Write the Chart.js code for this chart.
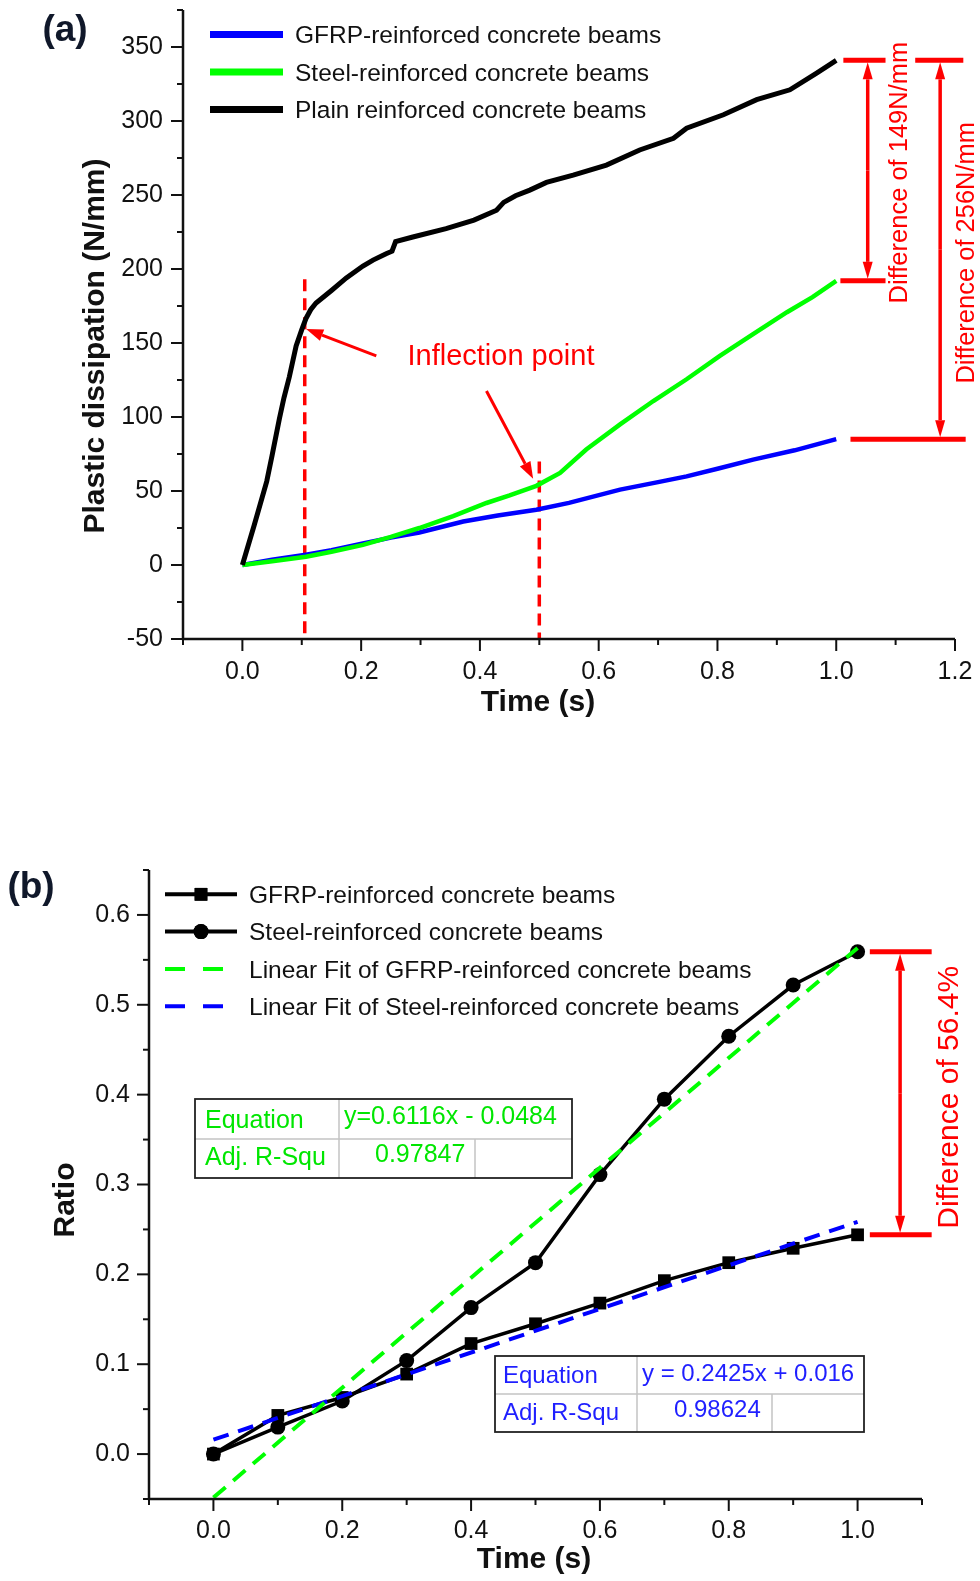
<!DOCTYPE html>
<html>
<head>
<meta charset="utf-8">
<title>Plastic dissipation and ratio</title>
<script src="https://cdn.jsdelivr.net/npm/chart.js@4.4.1/dist/chart.umd.min.js"></script>
<style>
  html, body { margin: 0; padding: 0; background: #fff; }
  body { width: 980px; height: 1581px; position: relative; overflow: hidden; }
  .panel { position: absolute; left: 0; }
  #panelA { top: 0; }
  #panelB { top: 760px; }
</style>
</head>
<body>
<div class="panel" id="panelA"><canvas id="chartA" width="980" height="760"></canvas></div>
<div class="panel" id="panelB"><canvas id="chartB" width="980" height="821"></canvas></div>
<script>
// ---- (a) plastic dissipation (N/mm) against time (s) ----
const gfrpTime = [0, 0.05, 0.107, 0.15, 0.203, 0.25, 0.298, 0.372, 0.43, 0.495, 0.55, 0.636, 0.7, 0.748, 0.8, 0.86, 0.93, 1.0];
const gfrpDiss = [0, 3.5, 7, 10, 14.5, 18.5, 22, 29.4, 33.5, 37.3, 42, 50.9, 56, 59.9, 65, 71.2, 77.5, 85];

const steelTime = [0, 0.05, 0.107, 0.15, 0.203, 0.25, 0.298, 0.355, 0.411, 0.45, 0.495, 0.535, 0.579, 0.636, 0.692, 0.748, 0.804, 0.86, 0.917, 0.96, 1.0];
const steelDiss = [0, 2.5, 5.6, 9, 13.6, 19, 25, 33, 41.9, 47, 53.5, 62.2, 78, 95, 110.8, 125.5, 141.3, 156, 170.8, 181, 192];

const plainTime = [0, 0.02, 0.041, 0.05, 0.0624, 0.07, 0.079, 0.0905, 0.1, 0.107, 0.115, 0.124, 0.15, 0.175, 0.203, 0.22, 0.242, 0.252, 0.258, 0.287, 0.343, 0.39, 0.428, 0.44, 0.46, 0.484, 0.512, 0.557, 0.613, 0.669, 0.726, 0.748, 0.81, 0.866, 0.922, 0.967, 1.0];
const plainDiss = [0, 27, 56.5, 74, 99, 113, 127, 148, 159, 166.5, 172.5, 177, 185.5, 194, 202, 206, 210.3, 212, 218.5, 221.6, 227.3, 233, 239.7, 245, 249.5, 253.3, 258.5, 263.4, 270.2, 280.4, 288.3, 295.1, 304.2, 314.4, 321.1, 332.4, 341];

// inflection guides: time and top of each dashed line
const inflectionTimes = [0.105, 0.5];
const inflectionTops = [193, 70];

const aMajorX = [0, 0.2, 0.4, 0.6, 0.8, 1.0, 1.2];
const aMinorX = [-0.1, 0.1, 0.3, 0.5, 0.7, 0.9, 1.1];
const aMajorY = [-50, 0, 50, 100, 150, 200, 250, 300, 350];
const aMinorY = [-25, 25, 75, 125, 175, 225, 275, 325, 375];

// ---- (b) ratio against time (s) ----
const ratioTime = [0, 0.1, 0.2, 0.3, 0.4, 0.5, 0.6, 0.7, 0.8, 0.9, 1.0];
const gfrpRatio = [0, 0.043, 0.063, 0.089, 0.123, 0.145, 0.168, 0.193, 0.213, 0.229, 0.244];
const steelRatio = [0, 0.030, 0.059, 0.104, 0.163, 0.213, 0.311, 0.395, 0.465, 0.522, 0.559];

// linear fits: [slope, intercept], adjusted R-square, fitted time span
const greenFit = [0.6116, -0.0484];
const greenFitR2 = '0.97847';
const blueFit = [0.2425, 0.016];
const blueFitR2 = '0.98624';
const fitSpan = [0, 1.0];

const bMajorX = [0, 0.2, 0.4, 0.6, 0.8, 1.0];
const bMinorX = [-0.1, 0.1, 0.3, 0.5, 0.7, 0.9, 1.1];
const bMajorY = [0, 0.1, 0.2, 0.3, 0.4, 0.5, 0.6];
const bMinorY = [-0.05, 0.05, 0.15, 0.25, 0.35, 0.45, 0.55, 0.65];

const FONT = "'Liberation Sans', Arial, Helvetica, sans-serif";
const INK = '#111111';
const RED = '#ff0000';
const GREEN = '#00ff00';
const BLUE = '#0000ff';
const GREEN_TEXT = '#00e600';
const BLUE_TEXT = '#1f1fff';

Chart.defaults.font.family = FONT;
Chart.defaults.color = INK;
Chart.defaults.animation = false;

const pts = (xs, ys) => xs.map((x, i) => ({ x, y: ys[i] }));
const fitPts = (coef) => fitSpan.map(t => ({ x: t, y: +(coef[0] * t + coef[1]).toFixed(4) }));

function makeAxis(min, max, major, fmt, pad, size, vertical) {
  return {
    type: 'linear',
    min, max,
    grid: { display: false, drawTicks: true, tickLength: 12 },
    border: { display: false },
    ticks: {
      autoSkip: false, maxRotation: 0, minRotation: 0,
      padding: pad, color: INK, font: { size: 25 },
      callback: v => fmt(v),
    },
    afterBuildTicks: s => { s.ticks = major.map(v => ({ value: v })); },
    afterFit: s => {
      if (vertical) s.width = size; else s.height = size;
      // keep the plot box exactly where the layout padding puts it
      s.paddingTop = s.paddingBottom = s.paddingLeft = s.paddingRight = 0;
    },
  };
}

// axis lines, major/minor tick marks, axis titles and the panel letter
const framePlugin = {
  id: 'frame',
  afterDraw(chart, args, o) {
    const { ctx, chartArea: a, scales: { x, y } } = chart;
    ctx.save();
    ctx.strokeStyle = INK;
    ctx.lineWidth = 2.5;
    ctx.lineJoin = 'miter';
    ctx.beginPath();
    ctx.moveTo(a.left, a.top);
    ctx.lineTo(a.left, a.bottom);
    ctx.lineTo(a.right, a.bottom);
    ctx.stroke();

    ctx.lineWidth = 2;
    const yTicks = (vals, len) => vals.forEach(v => {
      const py = y.getPixelForValue(v);
      ctx.beginPath(); ctx.moveTo(a.left, py); ctx.lineTo(a.left - len, py); ctx.stroke();
    });
    const xTicks = (vals, len) => vals.forEach(v => {
      const px = x.getPixelForValue(v);
      ctx.beginPath(); ctx.moveTo(px, a.bottom); ctx.lineTo(px, a.bottom + len); ctx.stroke();
    });
    yTicks(o.majorY, 12); yTicks(o.minorY, 6);
    xTicks(o.majorX, 12); xTicks(o.minorX, 6);

    ctx.fillStyle = INK;
    ctx.textAlign = 'center';
    ctx.textBaseline = 'middle';
    ctx.font = 'bold 30px ' + FONT;
    ctx.fillText(o.xTitle, o.xTitlePos[0], o.xTitlePos[1]);
    ctx.save();
    ctx.translate(o.yTitlePos[0], o.yTitlePos[1]);
    ctx.rotate(-Math.PI / 2);
    ctx.fillText(o.yTitle, 0, 0);
    ctx.restore();

    ctx.fillStyle = '#10182a';
    ctx.font = 'bold 37px ' + FONT;
    ctx.fillText(o.letter, o.letterPos[0], o.letterPos[1]);
    ctx.restore();
  }
};

// legend rows: a line sample (dashed or with a marker) then the label
const legendPlugin = {
  id: 'sampleLegend',
  afterDraw(chart, args, o) {
    const { ctx } = chart;
    ctx.save();
    chart.data.datasets.forEach((ds, i) => {
      const yy = o.top + i * o.step;
      ctx.strokeStyle = ds.borderColor;
      ctx.lineWidth = o.lineWidth;
      if (ds.borderDash) {
        ctx.setLineDash(o.dash);
        ctx.beginPath(); ctx.moveTo(o.x0, yy); ctx.lineTo(o.dashEnd, yy); ctx.stroke();
        ctx.setLineDash([]);
      } else {
        ctx.beginPath(); ctx.moveTo(o.x0, yy); ctx.lineTo(o.x1, yy); ctx.stroke();
      }
      if (ds.pointRadius > 0) {
        ctx.fillStyle = ds.pointBackgroundColor;
        Chart.helpers.drawPoint(ctx, { pointStyle: ds.pointStyle, radius: ds.pointRadius, borderWidth: 0 }, (o.x0 + o.x1) / 2, yy);
        ctx.fill();
      }
      ctx.fillStyle = INK;
      ctx.font = o.fontSize + 'px ' + FONT;
      ctx.textAlign = 'left';
      ctx.textBaseline = 'middle';
      ctx.fillText(ds.label, o.textX, yy + 2);
    });
    ctx.restore();
  }
};

function arrow(ctx, x0, y0, x1, y1, head, half) {
  const ang = Math.atan2(y1 - y0, x1 - x0);
  const bx = x1 - head * Math.cos(ang);
  const by = y1 - head * Math.sin(ang);
  ctx.beginPath(); ctx.moveTo(x0, y0); ctx.lineTo(bx, by); ctx.stroke();
  ctx.beginPath();
  ctx.moveTo(x1, y1);
  ctx.lineTo(bx + half * Math.sin(ang), by - half * Math.cos(ang));
  ctx.lineTo(bx - half * Math.sin(ang), by + half * Math.cos(ang));
  ctx.closePath();
  ctx.fill();
}

// red double-headed bracket between two series end values
function bracket(ctx, x, y, b) {
  const pTop = y.getPixelForValue(b.top);
  const pBot = y.getPixelForValue(b.bottom);
  const vx = x.getPixelForValue(b.vx);
  ctx.lineWidth = 5;
  ctx.beginPath();
  ctx.moveTo(x.getPixelForValue(b.topSpan[0]), pTop); ctx.lineTo(x.getPixelForValue(b.topSpan[1]), pTop);
  ctx.moveTo(x.getPixelForValue(b.botSpan[0]), pBot); ctx.lineTo(x.getPixelForValue(b.botSpan[1]), pBot);
  ctx.stroke();
  ctx.lineWidth = 3.5;
  const mid = (pTop + pBot) / 2;
  arrow(ctx, vx, mid, vx, pTop + 2, 17, 5);
  arrow(ctx, vx, mid, vx, pBot - 2, 17, 5);
  ctx.save();
  ctx.translate(x.getPixelForValue(b.textX), mid + (b.textShift || 0));
  ctx.rotate(-Math.PI / 2);
  ctx.font = b.fontSize + 'px ' + FONT;
  ctx.textAlign = 'center';
  ctx.textBaseline = 'middle';
  ctx.fillText(b.text, 0, 0);
  ctx.restore();
}

const last = arr => arr[arr.length - 1];

const annotateA = {
  id: 'annotateA',
  beforeDatasetsDraw(chart) {
    const { ctx, scales: { x, y } } = chart;
    ctx.save();
    ctx.strokeStyle = RED;
    ctx.lineWidth = 3.5;
    ctx.setLineDash([12, 7]);
    inflectionTimes.forEach((t, i) => {
      const px = x.getPixelForValue(t);
      ctx.beginPath();
      ctx.moveTo(px, y.getPixelForValue(inflectionTops[i]));
      ctx.lineTo(px, y.getPixelForValue(y.min));
      ctx.stroke();
    });
    ctx.restore();
  },
  afterDatasetsDraw(chart) {
    const { ctx, scales: { x, y } } = chart;
    const P = (t, v) => [x.getPixelForValue(t), y.getPixelForValue(v)];
    ctx.save();
    ctx.strokeStyle = RED;
    ctx.fillStyle = RED;
    ctx.lineWidth = 3;
    let [a0, a1] = [P(0.2255, 141.3), P(0.1074, 159.4)];
    arrow(ctx, a0[0], a0[1], a1[0], a1[1], 17, 6);
    [a0, a1] = [P(0.411, 117.6), P(0.4896, 58.3)];
    arrow(ctx, a0[0], a0[1], a1[0], a1[1], 17, 6);

    ctx.font = '29px ' + FONT;
    ctx.textAlign = 'left';
    ctx.textBaseline = 'alphabetic';
    const tp = P(0.278, 135);
    ctx.fillText('Inflection point', tp[0], tp[1]);

    const top = last(plainDiss);
    bracket(ctx, x, y, {
      top, bottom: last(steelDiss), vx: 1.053,
      topSpan: [1.012, 1.083], botSpan: [1.007, 1.083],
      textX: 1.108, textShift: 2, fontSize: 25.5,
      text: `Difference of ${Math.round(top - last(steelDiss))}N/mm`,
    });
    bracket(ctx, x, y, {
      top, bottom: last(gfrpDiss), vx: 1.175,
      topSpan: [1.133, 1.214], botSpan: [1.024, 1.218],
      textX: 1.2195, textShift: 3, fontSize: 25.5,
      text: `Difference of ${Math.round(top - last(gfrpDiss))}N/mm`,
    });
    ctx.restore();
  }
};

// fit-result tables and the relative-difference bracket of panel (b)
const fitTables = [
  { coef: greenFit, r2: greenFitR2, color: GREEN_TEXT, size: 25, left: 46, top: 229, w: 377, h: 79, rowH: 40, col1: 144, col2: 280,
    eq: c => `y=${c[0]}x - ${Math.abs(c[1])}`, lab: [10, 29, 66], val: [5, 25, 36, 63] },
  { coef: blueFit, r2: blueFitR2, color: BLUE_TEXT, size: 24, left: 346, top: 486, w: 369, h: 76, rowH: 38, col1: 142, col2: 277,
    eq: c => `y = ${c[0]}x + ${c[1]}`, lab: [8, 27, 64], val: [5, 25, 37, 61] },
];

const annotateB = {
  id: 'annotateB',
  afterDraw(chart) {
    const { ctx, chartArea: a, scales: { x, y } } = chart;
    ctx.save();
    fitTables.forEach(t => {
      const L = a.left + t.left, T = a.top + t.top;
      ctx.lineWidth = 1.5;
      ctx.strokeStyle = '#c4c4c4';
      ctx.beginPath();
      ctx.moveTo(L, T + t.rowH); ctx.lineTo(L + t.w, T + t.rowH);
      ctx.moveTo(L + t.col1, T); ctx.lineTo(L + t.col1, T + t.h);
      ctx.moveTo(L + t.col2, T + t.rowH); ctx.lineTo(L + t.col2, T + t.h);
      ctx.stroke();
      ctx.strokeStyle = '#222';
      ctx.lineWidth = 1.8;
      ctx.strokeRect(L, T, t.w, t.h);

      ctx.fillStyle = t.color;
      ctx.font = t.size + 'px ' + FONT;
      ctx.textAlign = 'left';
      ctx.textBaseline = 'alphabetic';
      ctx.fillText('Equation', L + t.lab[0], T + t.lab[1]);
      ctx.fillText('Adj. R-Squ', L + t.lab[0], T + t.lab[2]);
      ctx.fillText(t.eq(t.coef), L + t.col1 + t.val[0], T + t.val[1]);
      ctx.fillText(t.r2, L + t.col1 + t.val[2], T + t.val[3]);
    });

    ctx.strokeStyle = RED;
    ctx.fillStyle = RED;
    const hi = last(steelRatio), lo = last(gfrpRatio);
    bracket(ctx, x, y, {
      top: hi, bottom: lo, vx: 1.066,
      topSpan: [1.019, 1.115], botSpan: [1.019, 1.115],
      textX: 1.143, textShift: 4, fontSize: 30,
      text: `Difference of ${((hi - lo) / hi * 100).toFixed(1)}%`,
    });
    ctx.restore();
  }
};

// ---------- panel (a) ----------
new Chart(document.getElementById('chartA'), {
  type: 'scatter',
  data: {
    datasets: [
      { label: 'GFRP-reinforced concrete beams', data: pts(gfrpTime, gfrpDiss), showLine: true,
        borderColor: BLUE, borderWidth: 4.5, pointRadius: 0, order: 2 },
      { label: 'Steel-reinforced concrete beams', data: pts(steelTime, steelDiss), showLine: true,
        borderColor: GREEN, borderWidth: 4.5, pointRadius: 0, order: 1 },
      { label: 'Plain reinforced concrete beams', data: pts(plainTime, plainDiss), showLine: true,
        borderColor: '#000', borderWidth: 5, pointRadius: 0, order: 0 },
    ]
  },
  options: {
    responsive: false,
    layout: { autoPadding: false, padding: { left: 0, top: 10, right: 25, bottom: 0 } },
    scales: {
      x: makeAxis(-0.1, 1.2, aMajorX, v => v.toFixed(1), 6, 121, false),
      y: makeAxis(-50, 375, aMajorY, v => String(v), 8, 183, true),
    },
    plugins: {
      legend: { display: false },
      tooltip: { enabled: false },
      frame: {
        majorX: aMajorX, minorX: aMinorX, majorY: aMajorY, minorY: aMinorY,
        xTitle: 'Time (s)', xTitlePos: [538, 703],
        yTitle: 'Plastic dissipation (N/mm)', yTitlePos: [96, 346],
        letter: '(a)', letterPos: [65, 31],
      },
      sampleLegend: { top: 34.5, step: 37.5, x0: 210, x1: 283, lineWidth: 7, textX: 295, fontSize: 24.5 },
    }
  },
  plugins: [annotateA, framePlugin, legendPlugin]
});

// ---------- panel (b) ----------
new Chart(document.getElementById('chartB'), {
  type: 'scatter',
  data: {
    datasets: [
      { label: 'GFRP-reinforced concrete beams', data: pts(ratioTime, gfrpRatio), showLine: true,
        borderColor: '#000', borderWidth: 3.5, pointStyle: 'rect', pointRadius: 9,
        pointBackgroundColor: '#000', pointBorderWidth: 0, order: 1 },
      { label: 'Steel-reinforced concrete beams', data: pts(ratioTime, steelRatio), showLine: true,
        borderColor: '#000', borderWidth: 3.5, pointStyle: 'circle', pointRadius: 7.5,
        pointBackgroundColor: '#000', pointBorderWidth: 0, order: 1 },
      { label: 'Linear Fit of GFRP-reinforced concrete beams', data: fitPts(greenFit), showLine: true,
        borderColor: GREEN, borderWidth: 4, borderDash: [16, 10], pointRadius: 0, order: 0 },
      { label: 'Linear Fit of Steel-reinforced concrete beams', data: fitPts(blueFit), showLine: true,
        borderColor: BLUE, borderWidth: 4, borderDash: [16, 10], pointRadius: 0, order: 0 },
    ]
  },
  options: {
    responsive: false,
    layout: { autoPadding: false, padding: { left: 0, top: 110, right: 58, bottom: 0 } },
    scales: {
      x: makeAxis(-0.1, 1.1, bMajorX, v => v.toFixed(1), 5, 82, false),
      y: makeAxis(-0.05, 0.65, bMajorY, v => v.toFixed(1), 7, 149, true),
    },
    plugins: {
      legend: { display: false },
      tooltip: { enabled: false },
      frame: {
        majorX: bMajorX, minorX: bMinorX, majorY: bMajorY, minorY: bMinorY,
        xTitle: 'Time (s)', xTitlePos: [534, 800],
        yTitle: 'Ratio', yTitlePos: [66, 440],
        letter: '(b)', letterPos: [31, 128],
      },
      sampleLegend: { top: 134.3, step: 37.3, x0: 165, x1: 237, dashEnd: 223, dash: [20, 18], lineWidth: 4, textX: 249, fontSize: 24.5 },
    }
  },
  plugins: [framePlugin, legendPlugin, annotateB]
});
</script>
</body>
</html>
